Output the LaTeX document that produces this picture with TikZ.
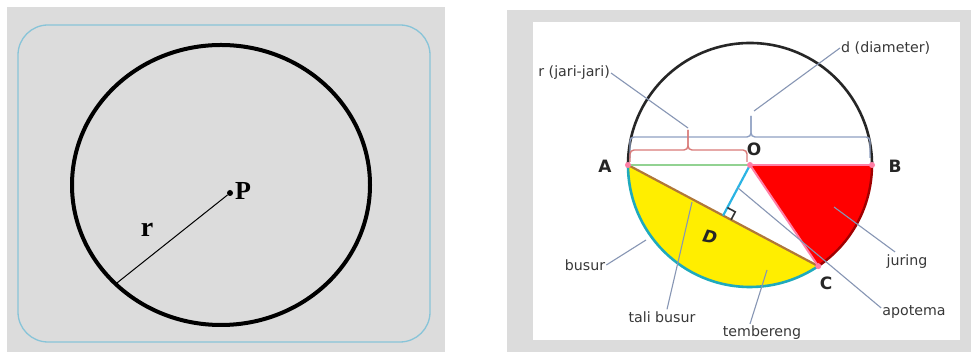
\documentclass[tikz,border=0pt]{standalone}
\usepackage{fontspec}
\setmainfont{Liberation Serif}
\newfontfamily\lblfont{DejaVu Sans}
\usetikzlibrary{calc}
\definecolor{bggray}{HTML}{DCDCDC}
\definecolor{framebl}{HTML}{88C4D8}
\definecolor{leader}{HTML}{8796B4}
\definecolor{bracered}{HTML}{D97A78}
\definecolor{braceblue}{HTML}{8FA0C2}
\definecolor{chordc}{HTML}{B07838}
\definecolor{arcteal}{HTML}{1FAABD}
\definecolor{apocyan}{HTML}{2BB4E4}
\definecolor{radgreen}{HTML}{92D292}
\definecolor{pinkc}{HTML}{FF7FA6}
\definecolor{yellowc}{HTML}{FFEE00}
\definecolor{redc}{HTML}{FF0000}
\definecolor{darkred}{HTML}{A00000}
\tikzset{
  lbl/.style={font=\lblfont\fontsize{14.2}{16}\selectfont, text=black!78, inner sep=1pt},
  ptlbl/.style={font=\lblfont\bfseries\fontsize{17}{19}\selectfont, text=black!85, inner sep=1pt},
  leaderline/.style={draw=leader, line width=1.1pt},
  bracer/.style={draw=bracered, line width=1.4pt, rounded corners=4pt},
  braceb/.style={draw=braceblue, line width=1.4pt, rounded corners=4pt},
}
\begin{document}
\begin{tikzpicture}[x=1pt,y=1pt]
\useasboundingbox (0,0) rectangle (971,352);
\fill[white] (0,0) rectangle (971,352);
% ---------------- left panel
\fill[bggray] (7,0) rectangle (445,345);
\draw[framebl, line width=1.3pt, rounded corners=30pt] (18,10) rectangle (430,327);
\coordinate (Cen) at (221,167);
\draw[black, line width=4pt] (Cen) ellipse [x radius=149, y radius=140];
\node[circle, fill=black, inner sep=0pt, minimum size=6pt] (P) at (230,159) {};
\coordinate (E) at ([shift={(221,167)}]225:149 and 140);
\draw[black, line width=1pt] (P) -- (E);
\node[font=\bfseries\fontsize{26}{28}\selectfont, anchor=west, inner sep=1pt] (Plbl) at (234,161) {P};
\node[font=\bfseries\fontsize{28}{30}\selectfont, inner sep=1pt] (rlbl) at (147,122) {r};
% ---------------- right panel
\fill[bggray] (507,0) rectangle (971,342);
\fill[white] (533,12) rectangle (960,330);
\coordinate (O) at (750,187);
\coordinate (A) at (628,187);
\coordinate (B) at (872,187);
\coordinate (C) at ($(O)+(-56:122)$);
\coordinate (M) at ($(A)!0.5!(C)$);
% yellow segment
\fill[yellowc] (A) arc[start angle=180, end angle=304, radius=122] -- cycle;
% red sector
\fill[redc] (O) -- (B) arc[start angle=0, end angle=-56, radius=122] -- cycle;
% circle arcs
\draw[black!85, line width=2.6pt] (A) arc[start angle=180, end angle=0, radius=122];
\draw[darkred, line width=2.4pt] (B) arc[start angle=0, end angle=-56, radius=122];
\draw[arcteal, line width=2.6pt] (A) arc[start angle=180, end angle=304, radius=122];
% chord, radii, apothem
\draw[chordc, line width=2.2pt] (A) -- (C);
\draw[radgreen, line width=2.2pt] (A) -- (O);
\draw[pinkc, line width=2.2pt] (O) -- (B);
\draw[pinkc, line width=2pt] (O) -- (C);
\draw[apocyan, line width=2.2pt] (O) -- (M);
\coordinate (Q1) at ($(M)!9pt!(O)$);
\coordinate (Q3) at ($(M)!9pt!(C)$);
\coordinate (Q2) at ($(Q1)+(Q3)-(M)$);
\draw[black!80, line width=1.6pt] (Q1) -- (Q2) -- (Q3);
% pink point marks
\foreach \p in {A,B,C,O} \fill[pinkc] (\p) circle (3pt);
% braces
\draw[braceb] (630,194) -- (630,215) -- (751,215) -- (751,236);
\draw[braceb] (751,236) -- (751,215) -- (870,215) -- (870,194);
\draw[bracer] (630,190) -- (630,202) -- (688,202) -- (688,222);
\draw[bracer] (688,222) -- (688,202) -- (747,202) -- (747,190);
\coordinate (rtip) at (688,224);
\coordinate (dtip) at (754,241);
% labels
\node[lbl, anchor=east] (rl) at (611,279) {r (jari-jari)};
\node[lbl, anchor=west] (dl) at (840,304) {d (diameter)};
\node[lbl] (busur) at (585,87) {busur};
\node[lbl] (tali) at (662,35) {tali busur};
\node[lbl] (temb) at (762,19) {tembereng};
\node[lbl] (juring) at (907,90) {juring};
\node[lbl] (apo) at (914,40) {apotema};
\node[ptlbl] (Al) at (605,186) {A};
\node[ptlbl] (Bl) at (895,186) {B};
\node[ptlbl] (Cl) at (826,69) {C};
\node[ptlbl] (Ol) at (754,203) {O};
\node[ptlbl, font=\lblfont\bfseries\itshape\fontsize{17}{19}\selectfont, rotate=-12] (Dl) at (710,115) {D};
% leader lines
\coordinate (busurE) at (646,112);
\coordinate (taliE) at (692,150);
\coordinate (tembE) at (767,82);
\coordinate (juringE) at (834,145);
\coordinate (apoE) at (738,164);
\draw[leaderline] (rl.east) -- (rtip);
\draw[leaderline] (dl.west) -- (dtip);
\draw[leaderline] (busur.east) -- (busurE);
\draw[leaderline] (tali.north) ++(5,1) -- (taliE);
\draw[leaderline] (temb.north) ++(-12,1) -- (tembE);
\draw[leaderline] (juring.north) ++(-12,2) -- (juringE);
\draw[leaderline] (apo.west) ++(0,4) -- (apoE);
\end{tikzpicture}
\end{document}
